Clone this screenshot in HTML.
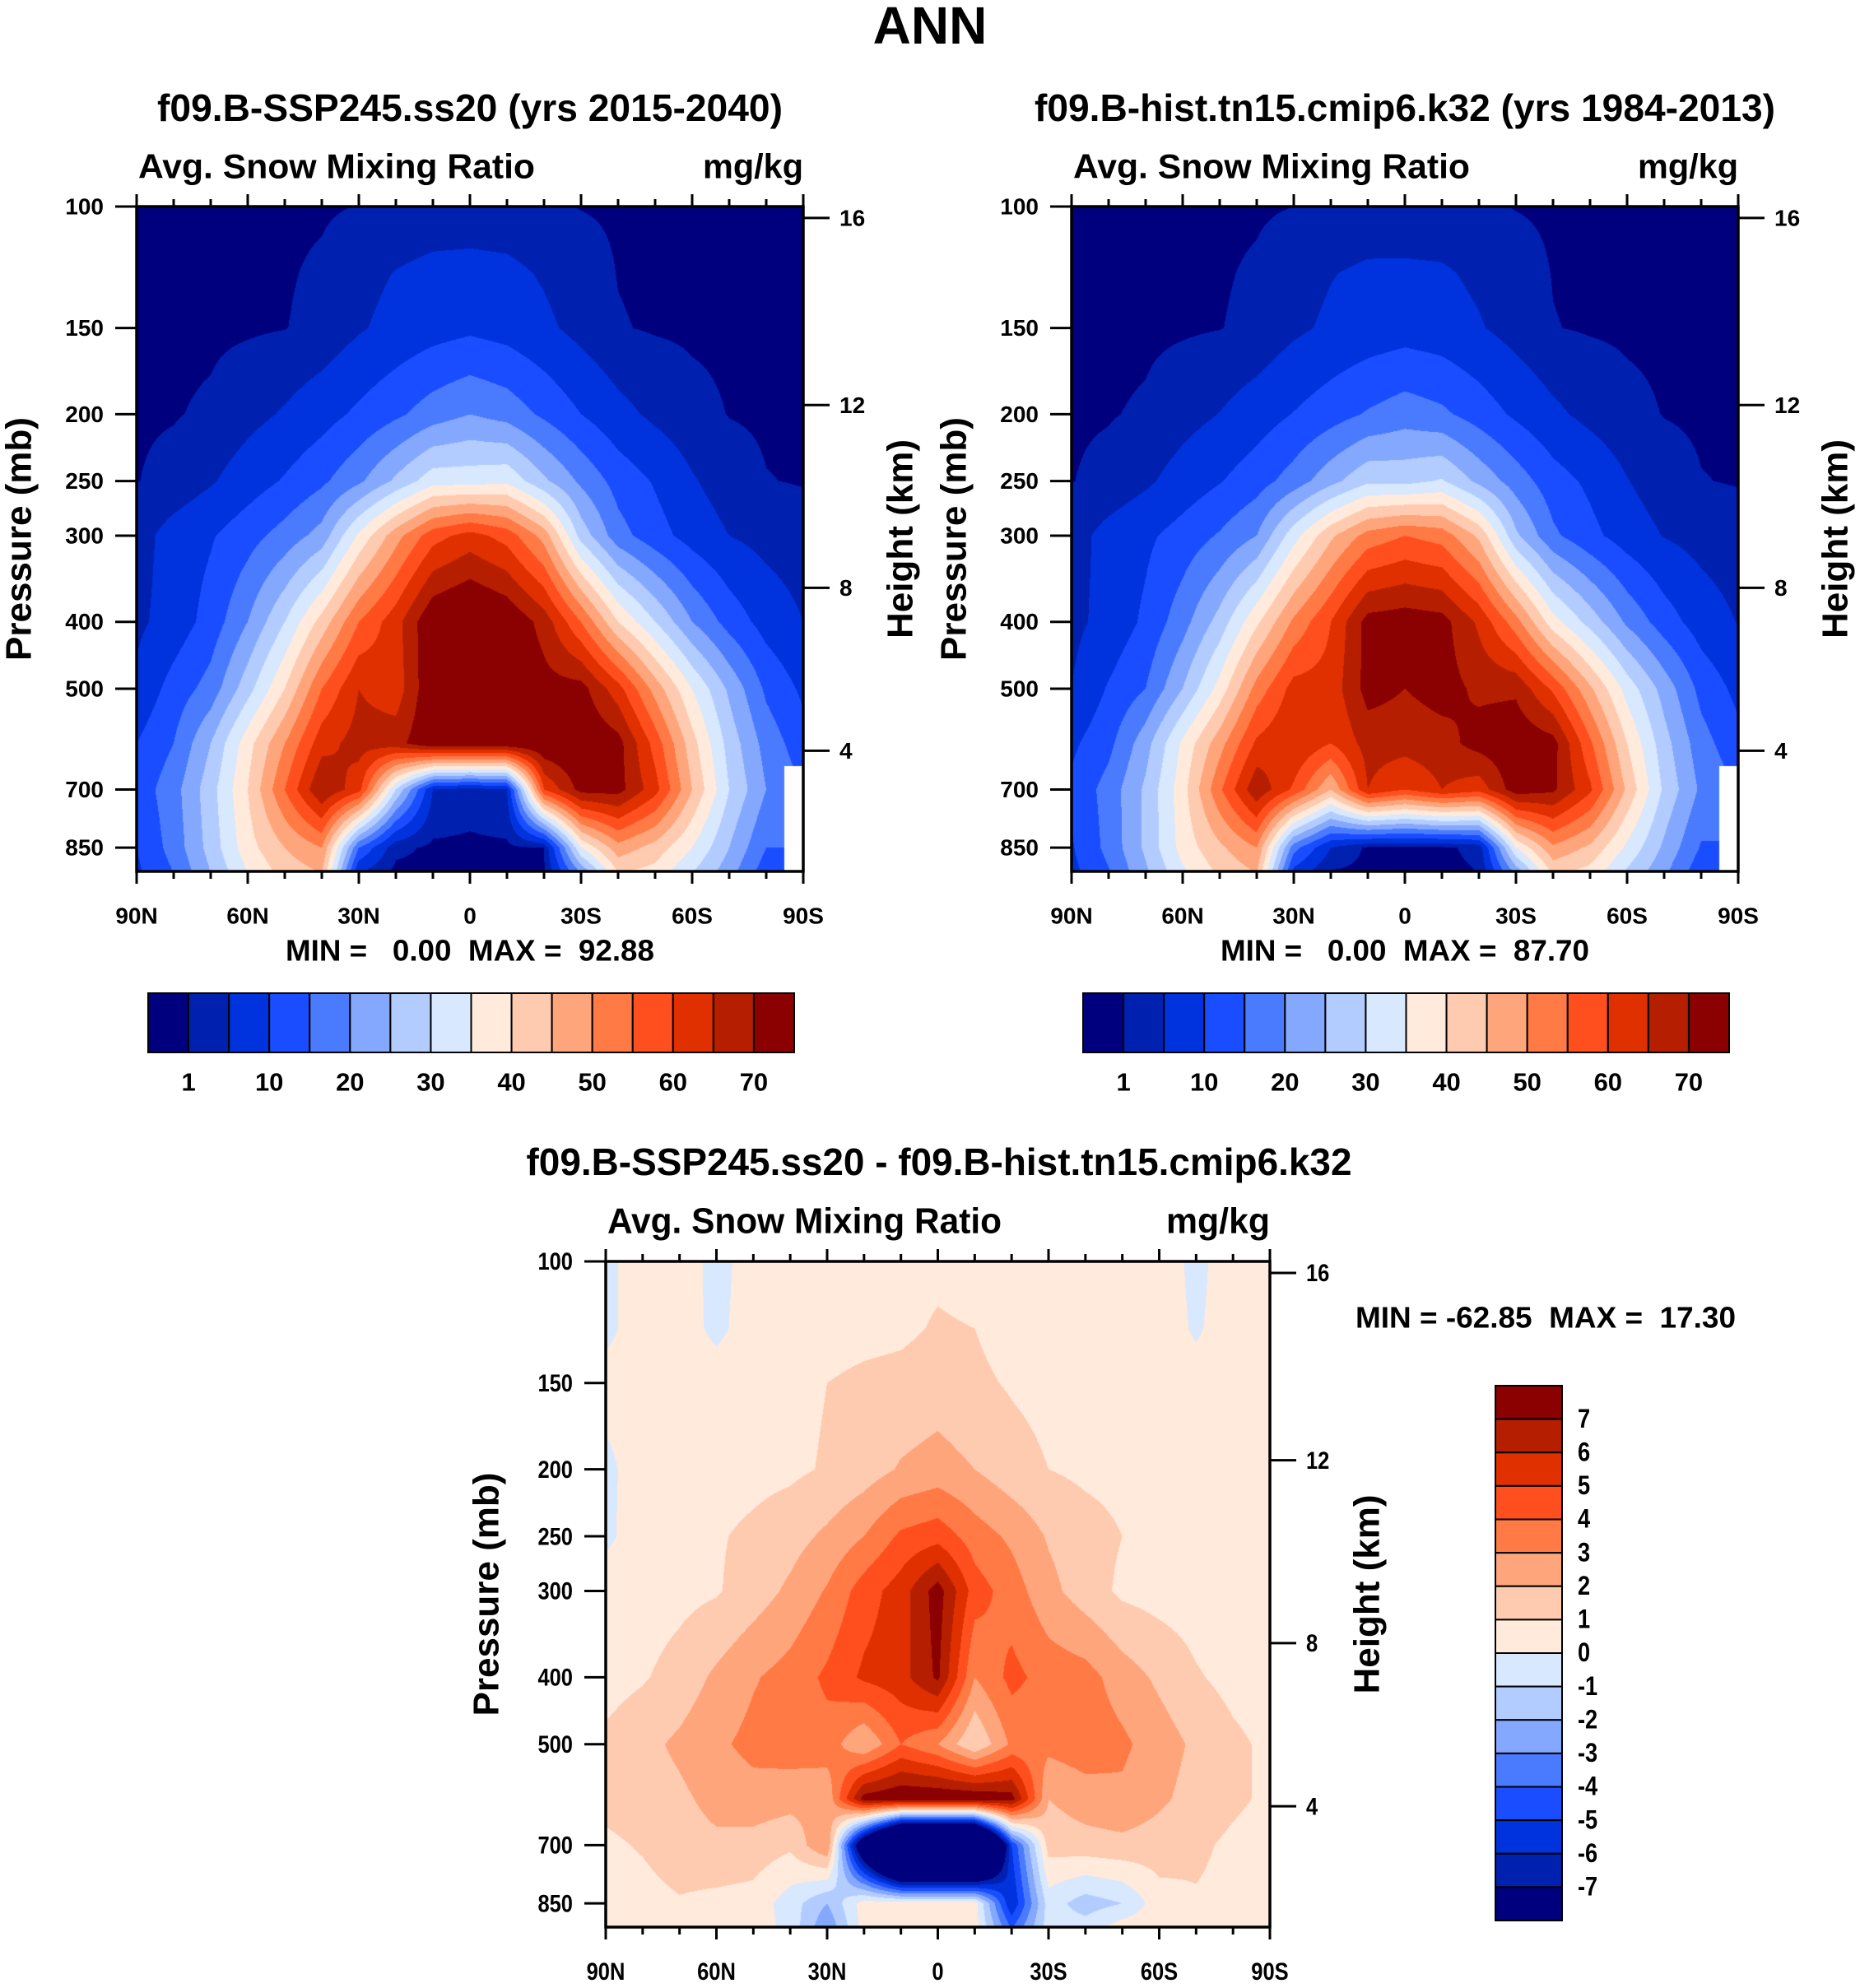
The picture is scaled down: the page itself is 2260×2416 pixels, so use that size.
<!DOCTYPE html>
<html><head><meta charset="utf-8">
<style>
html,body{margin:0;padding:0;background:#fff;}
#wrap{position:relative;width:2260px;height:2416px;overflow:hidden;background:#fff;}
canvas{position:absolute;}
svg{position:absolute;left:0;top:0;}
text{font-family:"Liberation Sans",sans-serif;font-weight:bold;fill:#000;white-space:pre;}
</style></head>
<body>
<div id="wrap">
<canvas id="c1" style="left:166px;top:251px" width="810" height="808"></canvas>
<canvas id="c2" style="left:1302px;top:251px" width="810" height="808"></canvas>
<canvas id="c3" style="left:736px;top:1533px" width="807" height="809"></canvas>
<svg id="svg" width="2260" height="2416"></svg>
</div>
<script>
// ---- data ----
const lats = [90,80,70,60,50,40,30,20,10,0,-10,-20,-30,-40,-50,-60,-70,-80,-90];
const plevs = [100,125,150,200,250,300,400,500,600,700,850,925];
const ss20Values = [
[.2,.2,.2,.3,.4,.6,1.1,1.8,2.3,2.5,2.1,1.5,.9,.6,.4,.3,.3,.2,.2],
[.2,.3,.3,.4,.7,1.5,3.5,5.2,6.3,6.5,6.2,4.5,2.5,.9,.5,.4,.3,.3,.2],
[.3,.3,.4,.6,.9,2,4.5,6.5,8,9,8,6,3.5,1.2,.7,.5,.4,.3,.3],
[.6,.8,1.5,3.5,5.5,8,11,14,17.5,20,18,14,10,6.5,4,2,.9,.6,.5],
[.9,2,4.5,7.5,10.5,14,19,26,33,33,34,26,19,13,9.5,5.5,2.5,1.1,.8],
[3,7,9.5,13,17,22,36,48,58,62,58,48,28,17,12,8,5,3.5,2.5],
[4,7,12,20,30,42,55,63,75,78,75,68,55,40,30,20,13,8,5],
[6,12,17,28,40,55,65,62,75,72,75,72,72,62,48,35,24,14,9],
[10,15,25,38,50,63,67,68,75,75,75,75,75,72,58,42,28,18,12],
[12,18,28,40,55,70,62,30,5,3,5,60,72,72,62,45,30,20,null],
[10,17,27,38,45,50,15,2,.3,.2,.3,1,35,48,43,35,25,15,null],
[9,15,25,35,42,45,5,0,0,0,0,.5,20,40,38,30,22,12,null]
];
const histValues = [
[.2,.2,.2,.3,.4,.6,1.0,1.7,2.1,2.3,2,1.4,.9,.6,.4,.3,.3,.2,.2],
[.2,.3,.3,.4,.7,1.4,3.2,4.8,5.8,5.8,5.6,4.1,2.3,.9,.5,.4,.3,.3,.2],
[.3,.3,.4,.6,.9,1.8,4.1,5.8,7,7.8,7.1,5.4,3.2,1.1,.7,.5,.4,.3,.3],
[.6,.8,1.4,3.3,5.1,7.5,10.2,12.8,15.5,17.6,16,12.7,9.1,6,3.7,1.9,.9,.6,.5],
[.9,1.9,4.2,7,9.7,12.8,17.2,23.3,29,28.5,30.5,23.6,17.6,12.1,9,5.2,2.4,1.1,.8],
[3,6.7,9,12,15.5,20,33,44,52,55,53,44,26,16,11.4,7.6,4.8,3.4,2.4],
[3.8,6.5,11,18,27,39,51,60,72,73,72,64,52,37,28,19,12.4,7.6,4.8],
[5,10.5,15,25,37,52,62,62,72,70,72,69,69,59,46,33,23,13.4,8.6],
[9,13.5,23,36,48,61,65,60,67,67,68,72,74,72,56,40,27,17,11.5],
[11,17,26,38,54,69,59,45,65,60,65,62,73,71,61,44,29,19,null],
[9.5,16.5,26,37,44,50,17,5,.3,.3,.3,2,35,49,44,34,24,14.5,null],
[8.5,14.5,24,34,41,45,8,.5,0,0,0,1,21,41,38,29,21,11.5,null]
];
const diffValues = [
[-.2,.4,.5,-.3,.4,.5,.5,.6,.7,.8,.6,.5,.5,.4,.4,.4,-.2,.4,.4],
[-.2,.4,.4,-.2,.4,.5,.6,.7,.8,1.1,1,.6,.5,.5,.4,.4,-.1,.4,.4],
[.3,.4,.5,.4,.6,.7,1,1.2,1.3,1.5,1.2,.9,.7,.6,.5,.5,.3,.4,.4],
[-.2,.4,.5,.6,.7,.8,1.1,1.5,2.1,2.4,2,1.4,1,.8,.7,.6,.5,.5,.5],
[-.2,.5,.7,.9,1.2,1.6,2.2,3,4.2,4.6,3.5,2.8,1.9,1.4,1,.8,.6,.5,.5],
[.5,.5,.7,.9,1.5,2.2,3.1,4.5,5.5,7.5,4.5,3.5,2.3,1.5,.8,.6,.5,.4,.5],
[.6,.9,1.4,2.2,2.9,3.4,4.2,5.2,5.6,7.2,3,4.3,3.6,3.4,2.5,1.8,1.1,.7,.5],
[1.2,1.7,2.2,2.8,3.3,3.5,3.6,2,4,3,1,3.2,3.3,3.6,3.2,2.5,1.8,1.2,.8],
[1.3,1.5,1.8,2.3,2.6,2.4,2.2,7.5,8,8,8,7.5,2,2.5,2.8,2.2,1.6,1.2,.8],
[.8,1.1,1.6,1.8,1.6,1.2,3,-10,-20,-20,-20,-5,1.4,1.6,1.7,1.5,1.2,.8,.5],
[.5,.6,.9,.7,.6,-.5,-2,.5,.5,.5,.5,-6,-.5,-1.5,-1,.6,.9,.7,.5],
[.5,.5,.6,.6,.5,-.3,-3,.5,.5,.5,.5,-4,-.5,-.5,.6,.7,.6,.5,.5]
];
const absLevels = [1,5,10,15,20,25,30,35,40,45,50,55,60,65,70];
const absLabels = ["1","10","20","30","40","50","60","70"];
const diffLevels = [-7,-6,-5,-4,-3,-2,-1,0,1,2,3,4,5,6,7];
const palette = ["#00007f","#0020b0","#0033dd","#1a4dff","#4a7bff","#85a8ff","#b3ccff","#d7e8ff","#ffeadb","#ffcbb0","#ffa57c","#ff7a45","#ff4f1e","#e03000","#b51f00","#8b0000"];
const pTicks = [100,150,200,250,300,400,500,700,850];
const hTickP = [103.9,194,357,615];
const hTickLabels = ["16","12","8","4"];
const xTickLat = [90,60,30,0,-30,-60,-90];
const xTickLabels = ["90N","60N","30N","0","30S","60S","90S"];
const PBOT = 920;

// ---- helpers ----
function hex(c){return [parseInt(c.substr(1,2),16),parseInt(c.substr(3,2),16),parseInt(c.substr(5,2),16)];}
const palRGB = palette.map(hex);
function sample(data, lat, p){
  const lp = Math.log(p);
  let j = 0; while (j < plevs.length-2 && Math.log(plevs[j+1]) < lp) j++;
  let fy = (lp - Math.log(plevs[j]))/(Math.log(plevs[j+1])-Math.log(plevs[j]));
  fy = Math.max(0,Math.min(1,fy));
  let fi = (90-lat)/10; let i = Math.min(lats.length-2, Math.floor(fi)); let fx = fi - i;
  const c = [[data[j][i],data[j][i+1]],[data[j+1][i],data[j+1][i+1]]];
  const ny = fy<0.5?0:1, nx = fx<0.5?0:1;
  if (c[ny][nx]===null) return null;
  let s=0,w=0;
  const ws=[[(1-fy)*(1-fx),(1-fy)*fx],[fy*(1-fx),fy*fx]];
  for(let a=0;a<2;a++)for(let b=0;b<2;b++){if(c[a][b]!==null){s+=c[a][b]*ws[a][b];w+=ws[a][b];}}
  return s/w;
}
function drawField(id, data, levels){
  const cv=document.getElementById(id), ctx=cv.getContext('2d');
  const W=cv.width,H=cv.height, img=ctx.createImageData(W,H);
  for(let y=0;y<H;y++){
    const p=100*Math.exp((y+0.5)/H*Math.log(PBOT/100));
    for(let x=0;x<W;x++){
      const lat=90-(x+0.5)/W*180;
      const v=sample(data,lat,p);
      const k=(y*W+x)*4;
      if(v===null){img.data[k]=255;img.data[k+1]=255;img.data[k+2]=255;img.data[k+3]=255;continue;}
      let idx=0; while(idx<levels.length && v>=levels[idx]) idx++;
      const c=palRGB[idx];
      img.data[k]=c[0];img.data[k+1]=c[1];img.data[k+2]=c[2];img.data[k+3]=255;
    }
  }
  ctx.putImageData(img,0,0);
}
drawField('c1',ss20Values,absLevels);
drawField('c2',histValues,absLevels);
drawField('c3',diffValues,diffLevels);

const svg=document.getElementById('svg');
const NS='http://www.w3.org/2000/svg';
function el(tag,attrs,parent){const e=document.createElementNS(NS,tag);for(const k in attrs)e.setAttribute(k,attrs[k]);(parent||svg).appendChild(e);return e;}
function txt(s,x,y,size,anchor,name,extra){
  const t=el('text',Object.assign({x:x,y:y,'font-size':size,'text-anchor':anchor||'middle','dominant-baseline':'central'},extra||{}));
  
  
  t.textContent=s;return t;
}
function panel(o){
  const g=el('g',{});
  
  
  const {L,R,T,B}=o; const pY=p=>T+Math.log(p/100)/Math.log(PBOT/100)*(B-T); const lX=lat=>L+(90-lat)/180*(R-L);
  el('rect',{x:L,y:T,width:R-L,height:B-T,fill:'none',stroke:'#000','stroke-width':3.5},g);
  for(let lat=90;lat>=-90;lat-=10){
    const major=lat%30===0, len=major?15:9, x=lX(lat);
    el('line',{x1:x,x2:x,y1:T,y2:T-len,stroke:'#000','stroke-width':3},g);
    el('line',{x1:x,x2:x,y1:B,y2:B+len,stroke:'#000','stroke-width':3},g);
  }
  xTickLat.forEach((lat,i)=>txt(xTickLabels[i],lX(lat),B+54,o.tick,'middle','x-tick-label',o.cond?{transform:`translate(${lX(lat)},0) scale(0.85,1) translate(${-lX(lat)},0)`}:{}));
  pTicks.forEach(p=>{const y=pY(p);el('line',{x1:L-26,x2:L,y1:y,y2:y,stroke:'#000','stroke-width':3},g);
    txt(String(p),L-40,y,o.tick,'end','pressure-tick-label',o.cond?{transform:`translate(${L-40},0) scale(0.85,1) translate(${-(L-40)},0)`}:{});});
  hTickP.forEach((p,i)=>{const y=pY(p);el('line',{x1:R,x2:R+32,y1:y,y2:y,stroke:'#000','stroke-width':3},g);
    txt(hTickLabels[i],R+44,y,o.tick,'start','height-tick-label',o.cond?{transform:`translate(${R+44},0) scale(0.85,1) translate(${-(R+44)},0)`}:{});});
  txt('Pressure (mb)',o.pxT,(T+B)/2,44,'middle','y-axis-title',{transform:`rotate(-90 ${o.pxT} ${(T+B)/2})`});
  txt('Height (km)',o.hxT,(T+B)/2,44,'middle','right-axis-title',{transform:`rotate(-90 ${o.hxT} ${(T+B)/2})`});
  txt('Avg. Snow Mixing Ratio',L+2,T-49,o.sub,'start','variable-label',o.cond?{textLength:o.subLen,lengthAdjust:'spacingAndGlyphs'}:{textLength:482,lengthAdjust:'spacingAndGlyphs'});
  txt('mg/kg',R,T-49,o.sub,'end','units-label',o.cond?{textLength:126,lengthAdjust:'spacingAndGlyphs'}:{textLength:122,lengthAdjust:'spacingAndGlyphs'});
  return {pY,lX};
}
txt('ANN',1130,31,64,'middle','figure-title');
panel({name:'ss20-panel',L:166,R:976,T:251,B:1059,tick:28,sub:42,pxT:23,hxT:1094});
panel({name:'hist-panel',L:1302,R:2112,T:251,B:1059,tick:28,sub:42,pxT:1159,hxT:2230});
panel({name:'diff-panel',L:736,R:1543,T:1533,B:2342,tick:30,sub:44,pxT:591,hxT:1661,cond:true,subLen:479});
txt('f09.B-SSP245.ss20 (yrs 2015-2040)',571,131,46,'middle','ss20-title',{textLength:760,lengthAdjust:'spacingAndGlyphs'});
txt('f09.B-hist.tn15.cmip6.k32 (yrs 1984-2013)',1707,131,46,'middle','hist-title',{textLength:900,lengthAdjust:'spacingAndGlyphs'});
txt('f09.B-SSP245.ss20 - f09.B-hist.tn15.cmip6.k32',1141,1412,46,'middle','diff-title',{textLength:1003,lengthAdjust:'spacingAndGlyphs'});
txt('MIN =   0.00  MAX =  92.88',571,1155,36,'middle','ss20-min-max',{textLength:448,lengthAdjust:'spacingAndGlyphs'});
txt('MIN =   0.00  MAX =  87.70',1707,1155,36,'middle','hist-min-max',{textLength:448,lengthAdjust:'spacingAndGlyphs'});
txt('MIN = -62.85  MAX =  17.30',1878,1601,36,'middle','diff-min-max',{textLength:462,lengthAdjust:'spacingAndGlyphs'});

function hbar(x0,x1,y0,y1,name){
  const n=palette.length,w=(x1-x0)/n;
  for(let i=0;i<n;i++){
    const r=el('rect',{x:x0+i*w,y:y0,width:w,height:y1-y0,fill:palette[i],stroke:'#000','stroke-width':2});
    
    
  }
  absLabels.forEach((s,k)=>txt(s,x0+(2*k+1)*w,y1+36,31,'middle',name+'-label'));
}
hbar(180,965,1207,1279,'ss20-colorbar');
hbar(1316,2101,1207,1279,'hist-colorbar');
(function(){
  const x0=1817,x1=1898,y0=1684,y1=2334,n=palette.length,h=(y1-y0)/n;
  for(let i=0;i<n;i++){
    const r=el('rect',{x:x0,y:y0+i*h,width:x1-x0,height:h,fill:palette[n-1-i],stroke:'#000','stroke-width':2});
    
    
  }
  for(let k=0;k<diffLevels.length;k++){
    const v=diffLevels[diffLevels.length-1-k];
    txt(String(v),1917,y0+(k+1)*h,32,'start','diff-colorbar-label',{transform:`translate(1917,0) scale(0.85,1) translate(-1917,0)`});
  }
})();
</script>
</body></html>
